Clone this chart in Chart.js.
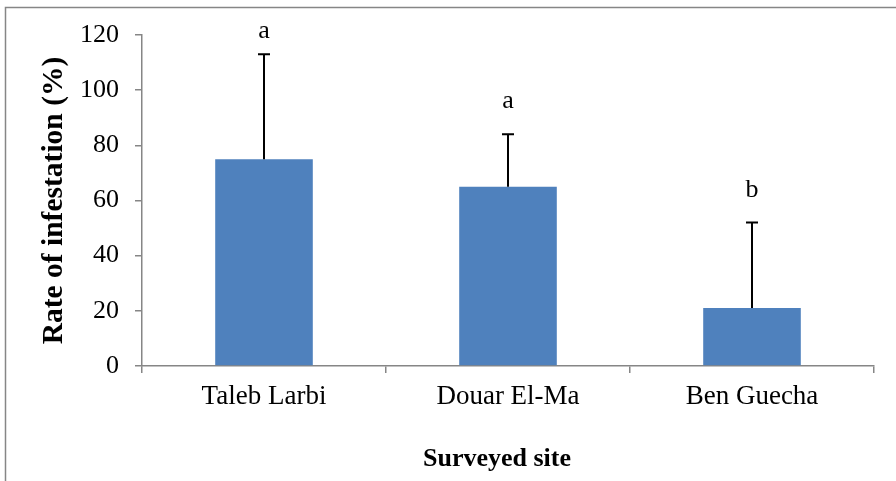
<!DOCTYPE html>
<html>
<head>
<meta charset="utf-8">
<script src="https://cdn.jsdelivr.net/npm/chart.js@4.4.0/dist/chart.umd.min.js"></script>
<style>
  html, body { margin: 0; padding: 0; background: #fff; }
  #wrap { width: 896px; height: 481px; position: relative; }
</style>
</head>
<body>
<div id="wrap"><canvas id="infestChart"></canvas></div>
<script>
const sites = ['Taleb Larbi', 'Douar El-Ma', 'Ben Guecha'];
const infestation = [75, 65, 21];
const errorTop = [113, 84, 52];
const letters = ['a', 'a', 'b'];
const letterLevel = [119, 93.5, 61.3];   // baseline of each letter, in % units
const yTicks = [0, 20, 40, 60, 80, 100, 120];

const axisGray = '#868686';
const serif = "'Liberation Serif', 'Times New Roman', serif";

// frame round the whole chart, like the Excel chart area
const framePlugin = {
    id: 'frame',
    beforeDraw(chart) {
        const c = chart.ctx;
        c.save();
        c.strokeStyle = axisGray;
        c.lineWidth = 1.5;
        c.strokeRect(5.5, 7.5, chart.width + 10, chart.height + 10);
        c.restore();
    }
};

// error bars (upper only), significance letters and x title
const errorPlugin = {
    id: 'errorBars',
    afterDatasetsDraw(chart) {
        const c = chart.ctx;
        const meta = chart.getDatasetMeta(0);
        const y = chart.scales.y;
        c.save();
        c.strokeStyle = '#000';
        c.lineWidth = 2;
        c.fillStyle = '#000';
        c.font = '26px ' + serif;
        c.textAlign = 'center';
        c.textBaseline = 'alphabetic';
        meta.data.forEach((bar, i) => {
            const yb = y.getPixelForValue(infestation[i]);
            const ye = y.getPixelForValue(errorTop[i]);
            c.beginPath();
            c.moveTo(bar.x, yb);
            c.lineTo(bar.x, ye);
            c.moveTo(bar.x - 6, ye);
            c.lineTo(bar.x + 6, ye);
            c.stroke();
            c.fillText(letters[i], bar.x, y.getPixelForValue(letterLevel[i]));
        });

        // x title, Excel centres it a bit left of the plot centre
        const area = chart.chartArea;
        c.font = 'bold 26px ' + serif;
        c.textBaseline = 'middle';
        c.fillText('Surveyed site', (area.left + area.right) / 2 - 11, chart.height - 22);
        c.restore();
    }
};

const ctx = document.getElementById('infestChart');

new Chart(ctx, {
    type: 'bar',
    data: {
        labels: sites,
        datasets: [{
            data: infestation,
            backgroundColor: '#4F81BD',
            borderWidth: 0,
            categoryPercentage: 1,
            barPercentage: 0.4
        }]
    },
    options: {
        responsive: true,
        maintainAspectRatio: false,
        animation: false,
        events: [],
        layout: { padding: { top: 35, right: 22, bottom: 0, left: 0 } },
        plugins: {
            legend: { display: false },
            tooltip: { enabled: false }
        },
        scales: {
            x: {
                grid: {
                    display: true,
                    drawOnChartArea: false,
                    tickLength: 7,
                    color: axisGray,
                    lineWidth: 1.5
                },
                border: { color: axisGray, width: 1.5 },
                ticks: {
                    color: '#000',
                    padding: 8,
                    font: { family: serif, size: 27 },
                    maxRotation: 0
                },
                afterFit(scale) { scale.height = 115; }
            },
            y: {
                min: 0,
                max: 120,
                afterBuildTicks(scale) {
                    scale.ticks = yTicks.map(v => ({ value: v }));
                },
                grid: {
                    display: true,
                    drawOnChartArea: false,
                    tickLength: 7,
                    color: axisGray,
                    lineWidth: 1.5
                },
                border: { color: axisGray, width: 1.5 },
                ticks: {
                    color: '#000',
                    padding: 16,
                    font: { family: serif, size: 26 }
                },
                title: {
                    display: true,
                    text: 'Rate of infestation (%)',
                    color: '#000',
                    font: { family: serif, size: 29.5, weight: 'bold' },
                    padding: { top: 37, bottom: 0 }
                },
                afterFit(scale) { scale.width = 142; }
            }
        }
    },
    plugins: [framePlugin, errorPlugin]
});
</script>
</body>
</html>
